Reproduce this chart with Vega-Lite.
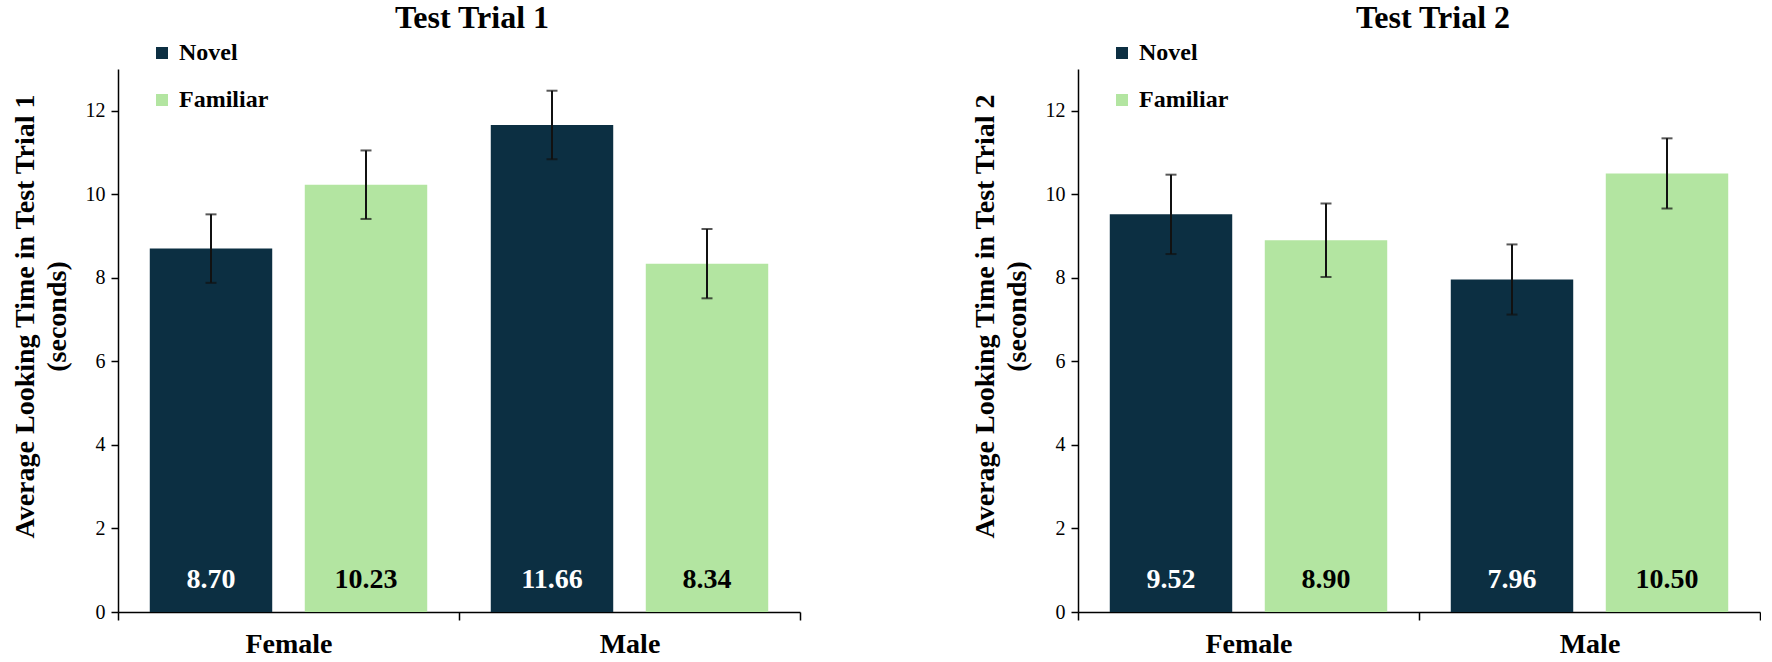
{
  "$schema": "https://vega.github.io/schema/vega-lite/v6.json",
  "description": "Average looking time by gender and stimulus, test trials 1 and 2",
  "padding": {"left": 11, "top": 2, "right": 0, "bottom": 0},
  "datasets": {
    "trial1": [
      {"gender": "Female", "cond": "Novel", "mean": 8.70, "lo": 7.88, "hi": 9.52, "label": "8.70"},
      {"gender": "Female", "cond": "Familiar", "mean": 10.23, "lo": 9.41, "hi": 11.05, "label": "10.23"},
      {"gender": "Male", "cond": "Novel", "mean": 11.66, "lo": 10.84, "hi": 12.48, "label": "11.66"},
      {"gender": "Male", "cond": "Familiar", "mean": 8.34, "lo": 7.51, "hi": 9.17, "label": "8.34"}
    ],
    "trial2": [
      {"gender": "Female", "cond": "Novel", "mean": 9.52, "lo": 8.57, "hi": 10.47, "label": "9.52"},
      {"gender": "Female", "cond": "Familiar", "mean": 8.90, "lo": 8.02, "hi": 9.78, "label": "8.90"},
      {"gender": "Male", "cond": "Novel", "mean": 7.96, "lo": 7.12, "hi": 8.80, "label": "7.96"},
      {"gender": "Male", "cond": "Familiar", "mean": 10.50, "lo": 9.66, "hi": 11.34, "label": "10.50"}
    ]
  },
  "spacing": 170,
  "hconcat": [
    {
      "data": {"name": "trial1"},
      "title": {"text": "Test Trial 1", "dx": 13},
      "width": 682,
      "height": 543,
      "encoding": {
        "x": {
          "field": "gender", "type": "nominal", "sort": ["Female", "Male"],
          "scale": {"paddingInner": 0, "paddingOuter": 0},
          "axis": {"title": null, "labelAngle": 0, "tickBand": "extent", "tickSize": 8, "labelFontSize": 28, "labelFontWeight": "bold", "labelPadding": 10}
        },
        "xOffset": {
          "field": "cond", "type": "nominal", "sort": ["Novel", "Familiar"],
          "scale": {"paddingInner": 0.21, "paddingOuter": 0.205}
        }
      },
      "layer": [
        {
          "mark": {"type": "bar"},
          "encoding": {
            "y": {
              "field": "mean", "type": "quantitative",
              "scale": {"domain": [0, 13], "nice": false},
              "axis": {
                "title": ["Average Looking Time in Test Trial 1", "(seconds)"],
                "values": [0, 2, 4, 6, 8, 10, 12],
                "tickSize": 7, "labelFontSize": 20, "labelPadding": 6,
                "titleFontSize": 28, "titleFontWeight": "bold", "titleLineHeight": 32,
                "titlePadding": 14, "titleY": 247
              }
            },
            "color": {
              "field": "cond", "type": "nominal",
              "scale": {"domain": ["Novel", "Familiar"], "range": ["#0c2f42", "#b3e5a1"]},
              "legend": {"orient": "none", "legendX": 32, "legendY": -28, "title": null, "symbolType": "square", "symbolSize": 144, "symbolStrokeWidth": 0, "labelFontSize": 24, "labelFontWeight": "bold", "rowPadding": 23, "labelOffset": 5, "padding": 0, "direction": "vertical"}
            }
          }
        },
        {
          "mark": {"type": "rule", "color": "#111111", "strokeWidth": 2},
          "encoding": {"y": {"field": "lo", "type": "quantitative"}, "y2": {"field": "hi"}}
        },
        {
          "mark": {"type": "tick", "color": "#111111", "size": 11, "thickness": 2},
          "encoding": {"y": {"field": "lo", "type": "quantitative"}}
        },
        {
          "mark": {"type": "tick", "color": "#111111", "size": 11, "thickness": 2},
          "encoding": {"y": {"field": "hi", "type": "quantitative"}}
        },
        {
          "mark": {"type": "text", "baseline": "bottom", "dy": -18, "fontSize": 28, "fontWeight": "bold"},
          "encoding": {
            "y": {"datum": 0, "type": "quantitative"},
            "text": {"field": "label"},
            "color": {"condition": {"test": "datum.cond == 'Novel'", "value": "white"}, "value": "black"}
          }
        }
      ]
    },
    {
      "data": {"name": "trial2"},
      "title": {"text": "Test Trial 2", "dx": 14},
      "width": 682,
      "height": 543,
      "encoding": {
        "x": {
          "field": "gender", "type": "nominal", "sort": ["Female", "Male"],
          "scale": {"paddingInner": 0, "paddingOuter": 0},
          "axis": {"title": null, "labelAngle": 0, "tickBand": "extent", "tickSize": 8, "labelFontSize": 28, "labelFontWeight": "bold", "labelPadding": 10}
        },
        "xOffset": {
          "field": "cond", "type": "nominal", "sort": ["Novel", "Familiar"],
          "scale": {"paddingInner": 0.21, "paddingOuter": 0.205}
        }
      },
      "layer": [
        {
          "mark": {"type": "bar"},
          "encoding": {
            "y": {
              "field": "mean", "type": "quantitative",
              "scale": {"domain": [0, 13], "nice": false},
              "axis": {
                "title": ["Average Looking Time in Test Trial 2", "(seconds)"],
                "values": [0, 2, 4, 6, 8, 10, 12],
                "tickSize": 7, "labelFontSize": 20, "labelPadding": 6,
                "titleFontSize": 28, "titleFontWeight": "bold", "titleLineHeight": 32,
                "titlePadding": 14, "titleY": 247
              }
            },
            "color": {
              "field": "cond", "type": "nominal",
              "scale": {"domain": ["Novel", "Familiar"], "range": ["#0c2f42", "#b3e5a1"]},
              "legend": {"orient": "none", "legendX": 32, "legendY": -28, "title": null, "symbolType": "square", "symbolSize": 144, "symbolStrokeWidth": 0, "labelFontSize": 24, "labelFontWeight": "bold", "rowPadding": 23, "labelOffset": 5, "padding": 0, "direction": "vertical"}
            }
          }
        },
        {
          "mark": {"type": "rule", "color": "#111111", "strokeWidth": 2},
          "encoding": {"y": {"field": "lo", "type": "quantitative"}, "y2": {"field": "hi"}}
        },
        {
          "mark": {"type": "tick", "color": "#111111", "size": 11, "thickness": 2},
          "encoding": {"y": {"field": "lo", "type": "quantitative"}}
        },
        {
          "mark": {"type": "tick", "color": "#111111", "size": 11, "thickness": 2},
          "encoding": {"y": {"field": "hi", "type": "quantitative"}}
        },
        {
          "mark": {"type": "text", "baseline": "bottom", "dy": -18, "fontSize": 28, "fontWeight": "bold"},
          "encoding": {
            "y": {"datum": 0, "type": "quantitative"},
            "text": {"field": "label"},
            "color": {"condition": {"test": "datum.cond == 'Novel'", "value": "white"}, "value": "black"}
          }
        }
      ]
    }
  ],
  "resolve": {"scale": {"color": "independent"}, "legend": {"color": "independent"}},
  "config": {
    "font": "Liberation Serif",
    "view": {"stroke": null},
    "axis": {"grid": false, "labelColor": "black", "titleColor": "black", "domainColor": "black", "tickColor": "black", "domainWidth": 1.5, "tickWidth": 1.5},
    "title": {"fontSize": 32, "fontWeight": "bold", "color": "black", "anchor": "middle", "offset": 6}
  }
}
